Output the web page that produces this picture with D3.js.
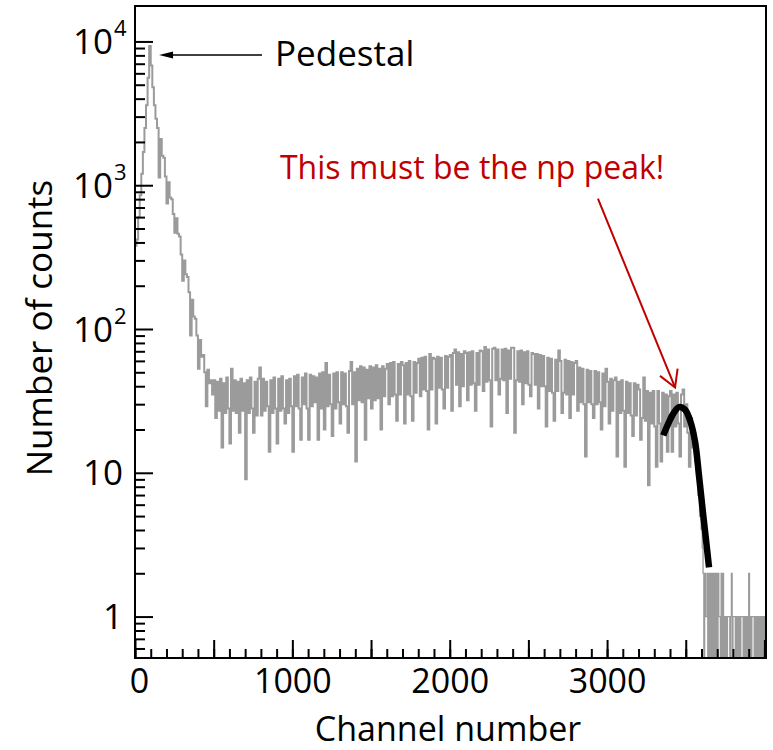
<!DOCTYPE html>
<html>
<head>
<meta charset="utf-8">
<script src="https://cdn.jsdelivr.net/npm/d3@7"></script>
<style>
  body { margin: 0; background: #fff; }
  svg text { font-family: "Open Sans", sans-serif; }
</style>
</head>
<body>
<div id="chart"></div>
<script>
// histogram, 10-channel bins from channel 0 to 3600
var binWidth = 10;
var counts = [
  380, 420, 600, 850, 1200, 1700, 2500, 3600, 5600, 9300,
  6800, 4800, 3600, 2900, 2500, 1130, 2100, 1600, 1550, 1150,
  745, 1050, 820, 800, 630, 467, 590, 460, 440, 330,
  217, 300, 240, 230, 180, 90, 160, 122, 118, 90,
  53, 84, 64, 66, 50, 29, 52, 42, 44, 35,
  44, 24, 43, 27, 45, 15, 42, 26, 46, 28,
  16, 53, 27, 44, 26, 43, 19, 45, 27, 42,
  9, 44, 26, 46, 28, 19, 43, 25, 45, 54,
  25, 45, 27, 43, 29, 14, 44, 26, 46, 28,
  16, 45, 27, 47, 28, 22, 44, 26, 45, 29,
  14, 47, 29, 48, 28, 17, 46, 30, 49, 28,
  17, 48, 29, 47, 31, 46, 17, 49, 28, 50,
  20, 58, 29, 48, 30, 18, 49, 28, 50, 31,
  22, 50, 30, 49, 29, 19, 51, 59, 30, 50,
  12, 53, 32, 55, 31, 54, 17, 52, 33, 55,
  28, 54, 32, 56, 33, 53, 20, 55, 34, 53,
  57, 30, 58, 34, 59, 35, 23, 57, 35, 59,
  56, 22, 58, 35, 60, 34, 23, 59, 36, 58,
  62, 34, 63, 38, 64, 37, 20, 67, 38, 63,
  62, 22, 64, 39, 63, 38, 28, 65, 39, 64,
  66, 27, 68, 72, 41, 69, 29, 67, 40, 70,
  68, 32, 69, 41, 70, 42, 27, 68, 41, 71,
  70, 37, 75, 43, 72, 44, 21, 73, 74, 44,
  72, 35, 45, 72, 44, 73, 26, 71, 45, 74,
  74, 19, 44, 70, 43, 71, 30, 69, 42, 70,
  41, 34, 68, 67, 41, 67, 28, 66, 40, 65,
  40, 21, 63, 37, 62, 36, 23, 61, 37, 71,
  60, 26, 36, 61, 35, 60, 24, 59, 35, 58,
  60, 27, 54, 31, 53, 30, 13, 52, 31, 51,
  30, 24, 51, 30, 50, 31, 20, 49, 29, 53,
  43, 22, 45, 27, 44, 46, 13, 43, 26, 44,
  27, 11, 43, 26, 42, 25, 18, 42, 25, 41,
  38, 17, 24, 46, 23, 37, 8.2, 36, 22, 37,
  21, 11, 37, 22, 12, 36, 21, 35, 14, 34,
  37, 14, 35, 21, 36, 22, 13, 35, 38, 21,
  30, 19, 11, 24, 15, 19, 12, 10, 7, 5
];

// high-channel tail, 5-channel bins from 3600
var tailStart = 3600;
var tailBin = 5;
var tailCounts = [
  4, 3, 2, 0, 2, 1, 1, 2, 0, 2,
  0, 2, 0, 2, 0, 2, 0, 2, 0, 2,
  0, 2, 1, 1, 0, 2, 0, 2, 0, 1,
  0, 1, 0, 1, 1, 1, 0, 1, 2, 0,
  1, 1, 1, 0, 1, 0, 1, 0, 1, 0,
  1, 1, 1, 0, 1, 0, 1, 0, 1, 0,
  2, 0, 1, 0, 1, 1, 1, 0, 1, 0,
  1, 0, 1, 0, 1, 0, 1, 0, 1, 0,
  1, 0
];

// gaussian fit over the np peak
var fitChannel = [3357, 3389, 3421, 3457, 3495, 3527, 3559, 3584, 3610, 3629, 3648];
var fitCounts = [18.2, 22.0, 25.8, 28.6, 27.5, 23.2, 16.5, 9.6, 5.2, 3.4, 2.2];

var xTickLabels = [0, 1000, 2000, 3000];
var yTickValues = [1, 10, 100, 1000, 10000];
var yTickBase = ["1", "10", "10", "10", "10"];
var yTickExp = ["", "", "2", "3", "4"];

var width = 773, height = 750;
var mLeft = 135, mRight = 766, mTop = 6, mBottom = 658;

var svg = d3.select("#chart").append("svg")
    .attr("width", width)
    .attr("height", height);

var x = d3.scaleLinear().domain([0, 4010]).range([mLeft, mRight]);
var y = d3.scaleLog().domain([0.515, 17640]).range([mBottom, mTop]);

function yv(n) { return y(n > 0 ? n : 0.3); }

svg.append("clipPath").attr("id", "plot-clip")
  .append("rect")
    .attr("x", mLeft).attr("y", mTop)
    .attr("width", mRight - mLeft).attr("height", mBottom - mTop);

// data
var hist = counts.map(function(c, i) { return {ch: i * binWidth, n: c}; });
hist.push({ch: tailStart, n: tailCounts[0]});
var tail = tailCounts.map(function(c, i) { return {ch: tailStart + i * tailBin, n: c}; });
tail.push({ch: tailStart + tailCounts.length * tailBin, n: tailCounts[tailCounts.length - 1]});

var step = d3.line()
    .x(function(d) { return x(d.ch); })
    .y(function(d) { return yv(d.n); })
    .curve(d3.curveStepAfter);

var g = svg.append("g").attr("clip-path", "url(#plot-clip)");

g.append("path")
    .datum(hist)
    .attr("d", step)
    .attr("fill", "none")
    .attr("stroke", "#9b9b9b")
    .attr("stroke-width", 2);

g.append("path")
    .datum(tail)
    .attr("d", step)
    .attr("fill", "none")
    .attr("stroke", "#9b9b9b")
    .attr("stroke-width", 1.3);

var fit = fitChannel.map(function(c, i) { return {ch: c, n: fitCounts[i]}; });
g.append("path")
    .datum(fit)
    .attr("d", d3.line()
      .x(function(d) { return x(d.ch); })
      .y(function(d) { return y(d.n); })
      .curve(d3.curveCatmullRom))
    .attr("fill", "none")
    .attr("stroke", "#000")
    .attr("stroke-width", 6.5);

// x axis, ticks pointing inward
var xMinor = d3.range(0, 4001, 100);
var xMajor = d3.range(0, 4001, 500);

svg.append("g")
    .attr("transform", "translate(0," + mBottom + ")")
    .call(d3.axisBottom(x).tickValues(xMinor).tickSize(-9).tickSizeOuter(0).tickFormat(""))
    .call(function(a) { a.select(".domain").remove(); });

var xAxis = svg.append("g")
    .attr("transform", "translate(0," + mBottom + ")")
    .call(d3.axisBottom(x).tickValues(xMajor).tickSize(-18).tickSizeOuter(0).tickPadding(11)
      .tickFormat(function(d) { return xTickLabels.indexOf(d) >= 0 ? d : ""; }));
xAxis.select(".domain").remove();
xAxis.selectAll("text")
    .attr("font-size", 34)
    .attr("font-family", "Open Sans")
    .attr("fill", "#000")
    .attr("dx", function(d) { return d === 0 ? 4 : 0; });

// y axis, log minor ticks
var yMinor = [];
[0.1, 1, 10, 100, 1000].forEach(function(dec) {
  for (var m = 2; m <= 9; m++) {
    var v = m * dec;
    if (v > 0.515 && v < 17640) yMinor.push(v);
  }
});

svg.append("g")
    .attr("transform", "translate(" + mLeft + ",0)")
    .call(d3.axisLeft(y).tickValues(yMinor).tickSize(-10).tickSizeOuter(0).tickFormat(""))
    .call(function(a) { a.select(".domain").remove(); });

svg.append("g")
    .attr("transform", "translate(" + mLeft + ",0)")
    .call(d3.axisLeft(y).tickValues(yTickValues).tickSize(-18).tickSizeOuter(0).tickFormat(""))
    .call(function(a) { a.select(".domain").remove(); });

svg.selectAll(".tick line").attr("stroke", "#000").attr("stroke-width", 2);

var yLab = svg.append("g");
yTickValues.forEach(function(v, i) {
  var hasExp = yTickExp[i] !== "";
  yLab.append("text")
      .attr("x", hasExp ? 113 : 123)
      .attr("y", y(v))
      .attr("dy", "0.36em")
      .attr("text-anchor", "end")
      .attr("font-size", 35)
      .text(yTickBase[i]);
  if (hasExp) {
    yLab.append("text")
        .attr("x", 114)
        .attr("y", y(v) - 5)
        .attr("font-size", 22)
        .text(yTickExp[i]);
  }
});

// frame
svg.append("rect")
    .attr("x", mLeft).attr("y", mTop)
    .attr("width", mRight - mLeft).attr("height", mBottom - mTop)
    .attr("fill", "none")
    .attr("stroke", "#000")
    .attr("stroke-width", 2);

// axis titles
svg.append("text")
    .attr("x", 448)
    .attr("y", 741)
    .attr("text-anchor", "middle")
    .attr("font-size", 34)
    .text("Channel number");

svg.append("text")
    .attr("transform", "translate(52,328) rotate(-90)")
    .attr("text-anchor", "middle")
    .attr("font-size", 35)
    .text("Number of counts");

// annotations
var pedestalNote = {text: "Pedestal", ch: 890, n: 6770, arrowFrom: 807, arrowTo: 153, arrowN: 8055};
var peakNote = {text: "This must be the np peak!", ch: 921, n: 1110, from: [2942, 806], to: [3432, 39.2]};

var ay = y(pedestalNote.arrowN);
var tipX = x(pedestalNote.arrowTo);
svg.append("line")
    .attr("x1", x(pedestalNote.arrowFrom)).attr("y1", ay)
    .attr("x2", tipX + 10).attr("y2", ay)
    .attr("stroke", "#000")
    .attr("stroke-width", 1.6);
svg.append("path")
    .attr("d", "M" + tipX + "," + ay + "L" + (tipX + 14) + "," + (ay - 3.5) + "L" + (tipX + 14) + "," + (ay + 3.5) + "Z")
    .attr("fill", "#000");
svg.append("text")
    .attr("x", x(pedestalNote.ch))
    .attr("y", y(pedestalNote.n))
    .attr("font-size", 35)
    .text(pedestalNote.text);

var red = "#c00000";
svg.append("text")
    .attr("x", x(peakNote.ch))
    .attr("y", y(peakNote.n))
    .attr("font-size", 32)
    .attr("fill", red)
    .text(peakNote.text);

var p0 = [x(peakNote.from[0]), y(peakNote.from[1])];
var p1 = [x(peakNote.to[0]), y(peakNote.to[1])];
var ang = Math.atan2(p1[1] - p0[1], p1[0] - p0[0]);
var arm = 19, spread = Math.PI / 6;
svg.append("line")
    .attr("x1", p0[0]).attr("y1", p0[1])
    .attr("x2", p1[0]).attr("y2", p1[1])
    .attr("stroke", red)
    .attr("stroke-width", 2);
svg.append("path")
    .attr("d", "M" + (p1[0] - arm * Math.cos(ang - spread)) + "," + (p1[1] - arm * Math.sin(ang - spread)) +
               "L" + p1[0] + "," + p1[1] +
               "L" + (p1[0] - arm * Math.cos(ang + spread)) + "," + (p1[1] - arm * Math.sin(ang + spread)))
    .attr("fill", "none")
    .attr("stroke", red)
    .attr("stroke-width", 2);
</script>
</body>
</html>
